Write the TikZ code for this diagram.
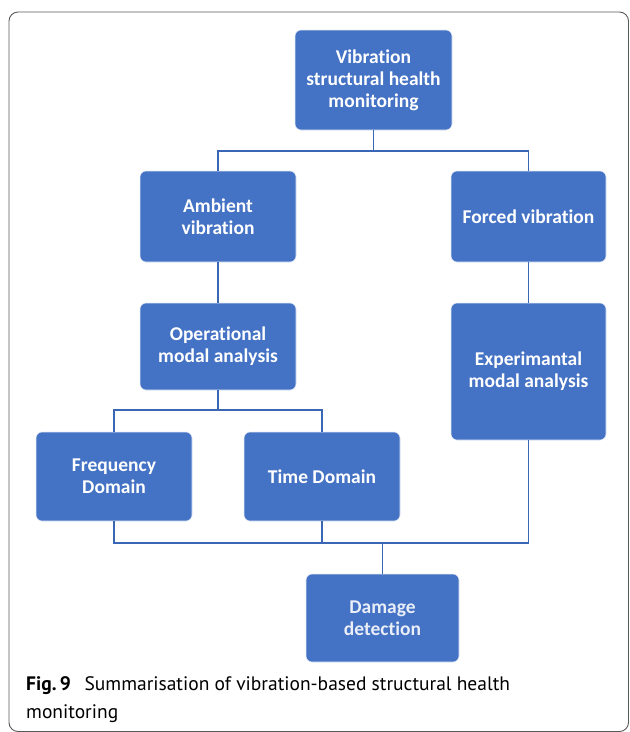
\documentclass[tikz,border=0pt]{standalone}
\usepackage{fontspec}
\setmainfont{PT Sans}
\newfontfamily\boxfont[Ligatures=NoCommon]{Carlito}
\usetikzlibrary{positioning}

\definecolor{boxblue}{HTML}{4472C4}
\definecolor{lineblue}{HTML}{3A67B5}

\tikzset{
    box/.style={rounded corners=6pt, fill=boxblue, draw=white!85!boxblue, line width=0.6pt,
        text=white, align=center, font=\boxfont\bfseries\fontsize{19.5}{22}\selectfont,
        inner sep=2pt},
    link/.style={draw=lineblue, line width=1.5pt}
}

\begin{document}
\begin{tikzpicture}[x=1pt, y=-1pt]
    \useasboundingbox (0,0) rectangle (630,732);
    % frame
    \draw[draw=black!65, line width=0.9pt, rounded corners=9pt] (9,12) rectangle (628.5,731.5);

    % top
    \node[box, minimum width=157pt, minimum height=100pt] (vshm) at (373.5,80)
        {Vibration\\structural health\\monitoring};

    % Ambient / Forced
    \node[box, minimum width=156pt, minimum height=91pt] (amb) at (218,216.5)
        {Ambient\\vibration};
    \node[box, minimum width=155pt, minimum height=91pt] (forced) at (528.5,216.5)
        {Forced vibration};

    % modal analysis
    \node[box, minimum width=156pt, minimum height=87pt] (oma) at (218,346.5)
        {Operational\\modal analysis};
    \node[box, minimum width=155pt, minimum height=137pt] (ema) at (528.5,371.5)
        {Experimantal\\modal analysis};

    % domains
    \node[box, minimum width=156pt, minimum height=89pt] (freq) at (114,476.5)
        {Frequency\\Domain};
    \node[box, minimum width=156pt, minimum height=89pt] (time) at (322,476.5)
        {Time Domain};

    % Damage
    \node[box, minimum width=153pt, minimum height=88pt, text=white!88!boxblue] (dmg) at (382.5,618)
        {Damage\\detection};

    % joints
    \coordinate (j1) at (373.5,151);
    \coordinate (j2) at (218,410);
    \coordinate (j3) at (382.5,543);

    \draw[link] (vshm.south) -- (j1);
    \draw[link] (amb.north) |- (j1) -| (forced.north);
    \draw[link] (amb.south) -- (oma.north);
    \draw[link] (forced.south) -- (ema.north);
    \draw[link] (oma.south) -- (j2);
    \draw[link] (freq.north) |- (j2) -| (time.north);
    \draw[link] (freq.south) |- (j3) -| (ema.south);
    \draw[link] (time.south) -- (time.south |- j3);
    \draw[link] (j3) -- (dmg.north);

    % caption
    \node[anchor=base west, align=left, inner sep=0pt, font=\fontsize{19.5}{28}\selectfont] (cap) at (26,718)
        {\textbf{Fig.\,9}\hspace{0.7em}Summarisation of vibration-based structural health\\monitoring};
\end{tikzpicture}
\end{document}
